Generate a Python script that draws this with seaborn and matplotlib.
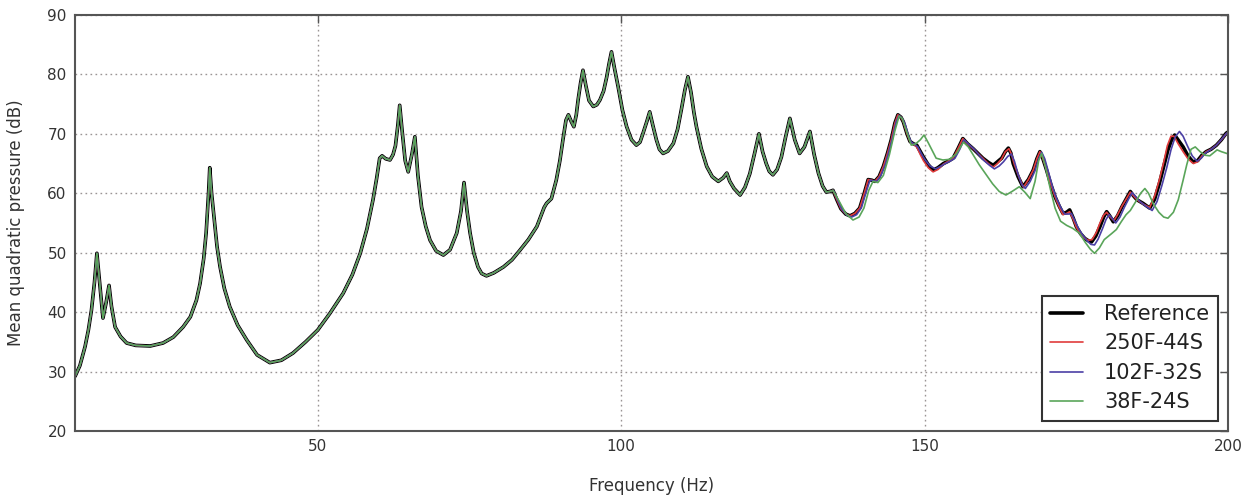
import matplotlib
matplotlib.use("Agg")
import matplotlib.pyplot as plt
import seaborn as sns
import pandas as pd

# ---------------- data ----------------
freq_ref = [10.0, 10.8, 11.65, 12.2, 12.7, 13.2, 13.6, 14.0, 14.6, 15.1, 15.6, 16.0, 16.6, 17.5, 18.5,
            20.0, 22.4, 24.5, 26.2, 27.8, 29.0, 30.0, 30.6, 31.2, 31.6, 32.0, 32.2, 32.5, 32.9, 33.4,
            33.9, 34.6, 35.5, 36.8, 38.3, 40.0, 42.1, 44.0, 45.9, 48.0, 50.0, 52.0, 54.2, 55.7, 57.0,
            58.1, 59.1, 59.7, 60.2, 60.6, 61.2, 61.9, 62.4, 62.8, 63.2, 63.5, 63.9, 64.4, 64.9, 65.5,
            66.0, 66.5, 67.1, 67.8, 68.5, 69.5, 70.7, 71.8, 72.9, 73.6, 74.1, 74.6, 75.1, 75.7, 76.4,
            77.0, 77.8, 79.0, 80.6, 82.0, 83.3, 84.7, 86.1, 87.3, 87.7, 88.5, 89.3, 89.9, 90.4, 90.9,
            91.3, 91.8, 92.2, 92.6, 92.9, 93.3, 93.7, 94.2, 94.7, 95.4, 96.0, 96.5, 97.1, 97.6, 98.0,
            98.4, 98.9, 99.5, 100.2, 100.9, 101.7, 102.5, 103.1, 103.6, 104.2, 104.7, 105.2, 105.8,
            106.3, 106.9, 107.7, 108.6, 109.3, 109.9, 110.5, 111.0, 111.5, 112.0, 112.4, 113.2, 114.1,
            115.0, 116.0, 116.8, 117.4, 117.9, 118.6, 119.6, 120.4, 121.2, 122.0, 122.7, 123.3, 123.9,
            124.4, 125.0, 125.7, 126.4, 127.1, 127.8, 128.6, 129.4, 130.2, 131.1, 131.8, 132.5, 133.2,
            133.8, 134.4, 134.9, 135.5, 136.2, 137.0, 137.7, 138.5, 139.3, 140.0, 140.7, 141.3, 141.8,
            142.5, 143.2, 143.9, 144.5, 145.1, 145.6, 146.1, 146.5, 147.1, 147.6, 148.2, 148.7, 149.3,
            149.8, 150.6, 151.4, 152.2, 153.1, 153.9, 154.7, 155.5, 156.3, 157.1, 158.0, 158.8, 159.6,
            160.5, 161.3, 162.0, 162.7, 163.3, 163.8, 164.2, 164.6, 165.4, 166.2, 167.1, 167.9, 168.5,
            169.0, 169.5, 170.1, 170.8, 171.5, 172.2, 172.8, 173.4, 173.9, 174.5, 175.0, 175.7, 176.4,
            177.0, 177.5, 178.2, 178.9, 179.5, 180.0, 180.5, 181.1, 181.8, 182.5, 183.2, 183.9, 184.4,
            185.0, 186.0, 187.1, 187.9, 188.7, 189.4, 190.1, 190.7, 191.2, 191.9, 192.6, 193.4, 194.2,
            195.0, 195.7, 196.4, 197.2, 198.1, 198.9, 199.7, 200.0]
spl_ref = [29.2, 31.0, 34.2, 37.0, 40.3, 45.0, 49.9, 45.5, 39.0, 41.5, 44.5, 41.0, 37.5, 35.9, 34.8,
           34.4, 34.3, 34.8, 35.8, 37.5, 39.2, 42.0, 44.8, 49.0, 53.3, 60.0, 64.3, 60.0, 56.0, 51.0,
           47.6, 44.0, 40.9, 37.8, 35.3, 32.8, 31.5, 31.9, 33.1, 35.0, 37.0, 39.8, 43.2, 46.3, 49.9,
           54.0, 58.9, 62.5, 65.9, 66.3, 65.8, 65.6, 66.5, 68.0, 71.5, 74.8, 70.5, 65.5, 63.6, 66.5,
           69.5, 63.0, 57.7, 54.4, 52.1, 50.3, 49.6, 50.5, 53.3, 57.0, 61.8, 57.0, 53.3, 50.0, 47.6,
           46.5, 46.1, 46.6, 47.6, 48.8, 50.4, 52.2, 54.4, 57.6, 58.3, 59.1, 62.2, 65.5, 69.0, 72.3,
           73.2, 72.0, 71.2, 73.2, 75.7, 78.5, 80.7, 78.0, 75.6, 74.6, 74.9, 75.7, 77.2, 79.5, 81.8,
           83.8, 81.0, 77.9, 74.0, 71.2, 69.0, 68.1, 68.6, 70.1, 72.0, 73.7, 71.5, 69.0,
           67.4, 66.7, 67.1, 68.4, 70.8, 74.0, 77.4, 79.6, 77.0, 73.5, 71.2, 67.5, 64.5,
           62.8, 62.0, 62.6, 63.4, 62.0, 60.8, 59.7, 61.0, 63.3, 66.8, 70.0, 67.0, 65.0,
           63.7, 63.1, 64.0, 66.1, 69.5, 72.6, 69.0, 66.7, 67.8, 70.4, 66.5, 63.4, 61.2,
           60.2, 60.3, 60.5, 59.0, 57.4, 56.5, 56.2, 56.6, 57.5, 59.8, 62.3, 62.2, 62.0,
           62.8, 64.5, 66.8, 69.0, 71.8, 73.2, 72.8, 72.0, 70.0, 68.7, 68.3, 68.1, 67.0,
           66.1, 64.8, 63.9, 64.3, 65.0, 65.4, 65.9, 67.5, 69.2, 68.3, 67.5, 66.7, 65.9,
           65.2, 64.7, 65.3, 65.9, 67.0, 67.6, 66.8, 65.0, 62.8, 61.1, 62.3, 63.9, 65.8,
           67.0, 65.8, 63.9, 61.5, 59.4, 57.8, 56.6, 56.8, 57.2, 55.8, 54.4, 53.2, 52.4,
           52.0, 51.8, 52.8, 54.4, 56.0, 56.9, 56.2, 55.2, 56.2, 57.7, 59.0, 60.3, 59.6,
           58.9, 58.3, 57.5, 59.0, 61.7, 64.5, 67.3, 69.0, 69.8, 68.8, 67.8, 66.3, 65.3,
           65.5, 66.4, 67.0, 67.4, 68.1, 69.0, 70.1, 70.3]

# reduced models: identical to the reference below these frequencies
start_250 = 140.0
freq_250 = [140.0, 140.7, 141.3, 141.8, 142.5, 143.2, 143.9, 144.5, 145.1, 145.6, 146.1, 146.5, 147.1,
            147.6, 148.2, 148.7, 149.3, 149.8, 150.6, 151.4, 152.2, 153.1, 153.9, 154.7, 155.5, 156.3,
            157.1, 158.0, 158.8, 159.6, 160.5, 161.3, 162.0, 162.7, 163.3, 163.9, 164.3, 164.8, 165.6,
            166.3, 167.1, 167.9, 168.5, 169.0, 169.5, 170.1, 170.8, 171.5, 172.2, 172.8, 173.4, 173.9,
            174.5, 175.0, 175.7, 176.4, 177.0, 177.6, 178.3, 178.9, 179.5, 180.0, 180.6, 181.2, 181.8,
            182.5, 183.2, 183.9, 184.4, 185.0, 186.0, 187.1, 187.9, 188.7, 189.4, 190.0, 190.6, 191.1,
            191.8, 192.6, 193.4, 194.3, 195.0, 195.7, 196.4, 197.2, 198.1, 198.9, 199.7, 200.0]
spl_250 = [59.8, 62.3, 62.2, 62.0, 62.8, 64.5, 66.8, 69.0, 71.8, 73.2, 72.8, 72.0, 70.0,
           68.7, 68.2, 67.8, 66.5, 65.5, 64.3, 63.6, 64.0, 64.9, 65.4, 65.9, 67.5, 69.2,
           68.3, 67.5, 66.7, 65.9, 65.0, 64.4, 65.0, 65.8, 67.0, 67.5, 66.6, 64.8, 62.6,
           61.0, 62.3, 63.9, 65.8, 67.0, 65.8, 63.9, 61.5, 59.4, 57.6, 56.4, 56.6, 56.9,
           55.6, 54.3, 53.1, 52.4, 52.1, 52.2, 53.4, 55.0, 56.3, 56.8, 56.0, 55.4, 56.4,
           57.8, 59.0, 60.2, 59.6, 58.9, 58.2, 57.6, 59.5, 62.3, 65.2, 68.0, 69.6, 69.6,
           68.3, 67.0, 65.8, 65.0, 65.3, 66.3, 67.0, 67.4, 68.1, 69.0, 70.0, 70.2]

start_102 = 135.0
freq_102 = [135.0, 135.6, 136.3, 137.2, 138.0, 138.8, 139.6, 140.3, 141.0, 141.6, 142.1, 142.8, 143.5,
            144.1, 144.7, 145.3, 145.8, 146.3, 146.8, 147.3, 147.8, 148.4, 148.9, 149.5, 150.1, 150.9,
            151.8, 152.6, 153.4, 154.2, 155.0, 155.8, 156.5, 157.3, 158.2, 159.0, 159.8, 160.7, 161.5,
            162.3, 163.0, 163.7, 164.3, 164.8, 165.4, 166.0, 166.6, 167.4, 168.2, 168.8, 169.3, 169.8,
            170.4, 171.1, 171.8, 172.5, 173.1, 173.7, 174.2, 174.8, 175.4, 176.1, 176.8, 177.4, 178.0,
            178.6, 179.3, 179.9, 180.4, 180.9, 181.5, 182.2, 182.9, 183.6, 184.2, 184.8, 185.5, 186.5,
            187.5, 188.3, 189.1, 189.9, 190.6, 191.3, 192.0, 192.6, 193.3, 194.1, 194.9, 195.6, 196.3,
            197.1, 198.0, 198.8, 199.6, 200.0]
spl_102 = [60.4, 59.0, 57.4, 56.3, 56.0, 56.4, 57.6, 60.0, 62.2, 62.1, 62.0, 63.0, 64.8,
           67.0, 69.3, 72.0, 73.1, 72.6, 71.6, 69.8, 68.6, 68.2, 67.8, 66.6, 65.6, 64.6,
           64.1, 64.5, 65.0, 65.4, 65.9, 67.4, 69.0, 68.2, 67.4, 66.4, 65.5, 64.7, 64.1,
           64.6, 65.3, 66.2, 66.6, 65.4, 63.2, 61.5, 60.8, 62.0, 63.8, 65.8, 66.9, 65.8,
           63.6, 61.0, 59.0, 57.5, 56.5, 56.5, 56.6, 55.3, 54.0, 52.9, 52.0, 51.4, 51.3,
           52.3, 54.0, 55.6, 56.4, 55.8, 55.0, 56.0, 57.6, 59.0, 60.1, 59.4, 58.6, 57.8,
           57.1, 58.6, 61.3, 64.3, 67.3, 69.5, 70.4, 69.6, 68.0, 66.3, 65.4, 65.9, 66.8,
           67.3, 68.0, 68.9, 69.9, 70.3]

start_38 = 135.0
freq_38 = [135.0, 136.0, 137.0, 138.2, 139.2, 140.0, 140.8, 141.5, 142.3, 143.2, 144.2, 145.1, 145.8,
           146.3, 147.0, 147.8, 148.5, 149.3, 149.9, 150.6, 151.9, 153.0, 154.1, 155.2, 156.4, 157.2,
           158.1, 159.0, 160.1, 161.2, 162.3, 163.4, 164.4, 165.6, 166.5, 167.4, 168.2, 168.8, 169.3,
           169.9, 170.7, 171.5, 172.4, 173.4, 174.4, 175.5, 176.5, 177.3, 178.0, 178.8, 179.6, 180.8,
           181.6, 182.4, 183.2, 183.9, 184.8, 185.6, 186.3, 186.9, 187.7, 188.6, 189.4, 190.1, 191.0,
           191.8, 192.6, 193.2, 193.9, 194.6, 195.4, 196.2, 197.0, 198.2, 198.9, 199.8, 200.0]
spl_38 = [60.3, 58.5, 56.6, 55.5, 56.0, 57.5, 60.5, 62.0, 61.8, 63.0, 66.5, 70.5, 73.0,
          72.6, 70.5, 68.1, 68.3, 69.0, 69.8, 68.5, 65.9, 65.6, 65.7, 66.6, 68.6, 67.8,
          66.3, 64.8, 63.2, 61.6, 60.3, 59.7, 60.3, 61.1, 60.2, 59.1, 62.0, 65.5, 66.7,
          64.5, 60.8, 57.5, 55.3, 54.6, 54.1, 53.3, 51.7, 50.6, 49.9, 50.8, 52.2, 53.2,
          53.9, 55.2, 56.4, 57.1, 58.6, 60.0, 60.8, 60.0, 58.2, 56.8, 56.0, 55.8, 56.8,
          58.9, 62.2, 64.8, 67.4, 67.8, 67.0, 66.4, 66.3, 67.3, 67.0, 66.7, 66.6]

series_names = ["Reference", "250F-44S", "102F-32S", "38F-24S"]
series_colors = ["#000000", "#e03c3c", "#4b40a6", "#5aa55a"]
series_widths = [2.6, 1.2, 1.2, 1.2]
x_ticks = [50, 100, 150, 200]
y_ticks = [20, 30, 40, 50, 60, 70, 80, 90]


def combine(start, f_hi, s_hi):
    f = [fr for fr in freq_ref if fr < start] + f_hi
    s = [sp for fr, sp in zip(freq_ref, spl_ref) if fr < start] + s_hi
    return f, s


curves = [(freq_ref, spl_ref),
          combine(start_250, freq_250, spl_250),
          combine(start_102, freq_102, spl_102),
          combine(start_38, freq_38, spl_38)]

# ---------------- figure ----------------
sns.set_theme(style="white")
plt.rcParams["font.family"] = ["DejaVu Sans"]

fig = plt.figure(figsize=(12.55, 4.99), dpi=100)
ax = fig.add_axes([0.0598, 0.1363, 0.9187, 0.8337])

for name, col, lw, (f, s) in zip(series_names, series_colors, series_widths, curves):
    df = pd.DataFrame({"f": f, "p": s})
    sns.lineplot(data=df, x="f", y="p", ax=ax, color=col, linewidth=lw,
                 label=name, sort=False, estimator=None)

ax.set_xlim(10, 200)
ax.set_ylim(20, 90)
ax.set_xticks(x_ticks)
ax.set_yticks(y_ticks)
ax.grid(True, linestyle=(0, (1.2, 2.4)), color="#9a9494", linewidth=1.0)
for sp in ax.spines.values():
    sp.set_color("#555555")
    sp.set_linewidth(1.5)
ax.tick_params(direction="in", top=True, right=True, length=6, width=1,
               color="#555555", labelsize=11, labelcolor="#333333", pad=6)

ax.set_xlabel("Frequency (Hz)", fontsize=12, color="#333333")
ax.set_ylabel("Mean quadratic pressure (dB)", fontsize=12, color="#333333")
ax.xaxis.set_label_coords(0.5, -0.11)
ax.yaxis.set_label_coords(-0.043, 0.5)

leg = ax.legend(loc="lower right", fontsize=15, frameon=True, fancybox=False,
                edgecolor="#333333", framealpha=1.0, handlelength=1.6,
                handletextpad=1.0, borderaxespad=0.5, labelspacing=0.45)
leg.get_frame().set_linewidth(1.5)
for t in leg.get_texts():
    t.set_color("#222222")

fig.savefig("out.png", dpi=100)
